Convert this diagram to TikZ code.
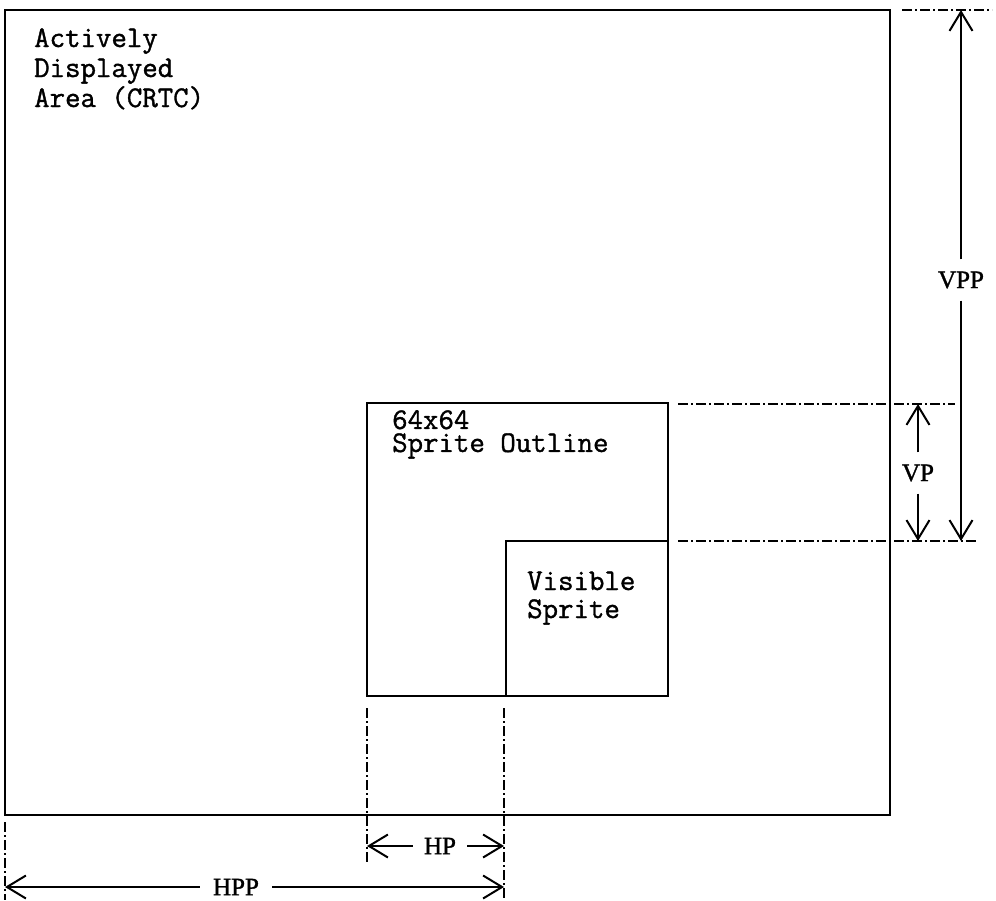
\documentclass[tikz,border=0pt]{standalone}
\usepackage{fontspec}
\setmainfont{Liberation Serif}
\newfontfamily\monofont[FakeBold=1.2]{Latin Modern Mono}
\newfontfamily\dimfont[FakeBold=1.2]{Liberation Serif}
\usetikzlibrary{arrows.meta}
\begin{document}
\begin{tikzpicture}[x=1pt,y=-1pt,
  box/.style={draw, line width=2pt, rectangle, inner sep=0pt, outer sep=0pt, anchor=north west},
  lbl/.style={font=\monofont\fontsize{30}{30}\selectfont, inner sep=0pt, anchor=base west},
  dimlbl/.style={font=\dimfont\fontsize{25}{27}\selectfont, inner xsep=11pt, inner ysep=12pt},
  arr/.style={line width=2pt, -{Straight Barb[length=19pt,width=23pt,line width=2pt]}},
  dashdot/.style={line width=1.4pt, dash pattern=on 10pt off 3pt on 2pt off 3pt}]
\useasboundingbox[fill=white] (0,0) rectangle (996,900);

% boxes
\node[box, minimum width=885pt, minimum height=805pt] (crtc) at (5,10) {};
\node[box, minimum width=301pt, minimum height=293pt] (sprite) at (367,403) {};
\node[box, minimum width=162pt, minimum height=155pt] (visible) at (506,541) {};

% texts
\node[lbl] (a1) at (34,47) {Actively};
\node[lbl] (a2) at (34,77) {Displayed};
\node[lbl] (a3) at (34,107) {Area (CRTC)};
\node[font=\monofont\fontsize{30}{23}\selectfont, inner sep=0pt, anchor=north west, align=left] (s1) at (392,410) {64x64\\Sprite Outline};
\node[lbl] (v1) at (527,590) {Visible};
\node[lbl] (v2) at (527,618) {Sprite};

% extension lines
\coordinate (h1a) at (902,10);  \coordinate (h1b) at (992,10);
\coordinate (h2a) at (678,404); \coordinate (h2b) at (955,404);
\coordinate (h3a) at (678,541); \coordinate (h3b) at (977,541);
\coordinate (w1a) at (367,708); \coordinate (w1b) at (367,863);
\coordinate (w2a) at (504,708); \coordinate (w2b) at (504,900);
\coordinate (w3a) at (5,822);   \coordinate (w3b) at (5,900);
\draw[dashdot] (h1a) -- (h1b);
\draw[dashdot] (h2a) -- (h2b);
\draw[dashdot] (h3a) -- (h3b);
\draw[dashdot] (w1a) -- (w1b);
\draw[dashdot] (w2a) -- (w2b);
\draw[dashdot] (w3a) -- (w3b);

% VPP
\node[dimlbl] (vpp) at (961,280) {VPP};
\coordinate (vppt) at (961,10);
\coordinate (vppb) at (961,541);
\draw[arr] (vpp) -- (vppt);
\draw[arr] (vpp) -- (vppb);

% VP
\node[dimlbl] (vp) at (918,473) {VP};
\coordinate (vpt) at (918,404);
\coordinate (vpb) at (918,541);
\draw[arr] (vp) -- (vpt);
\draw[arr] (vp) -- (vpb);

% HP
\node[dimlbl] (hp) at (440,846) {HP};
\coordinate (hpl) at (367,846);
\coordinate (hpr) at (504,846);
\draw[arr] (hp) -- (hpl);
\draw[arr] (hp) -- (hpr);

% HPP
\node[dimlbl, inner xsep=13pt] (hpp) at (236,887) {HPP};
\coordinate (hppl) at (5,887);
\coordinate (hppr) at (504,887);
\draw[arr] (hpp) -- (hppl);
\draw[arr] (hpp) -- (hppr);
\end{tikzpicture}
\end{document}
